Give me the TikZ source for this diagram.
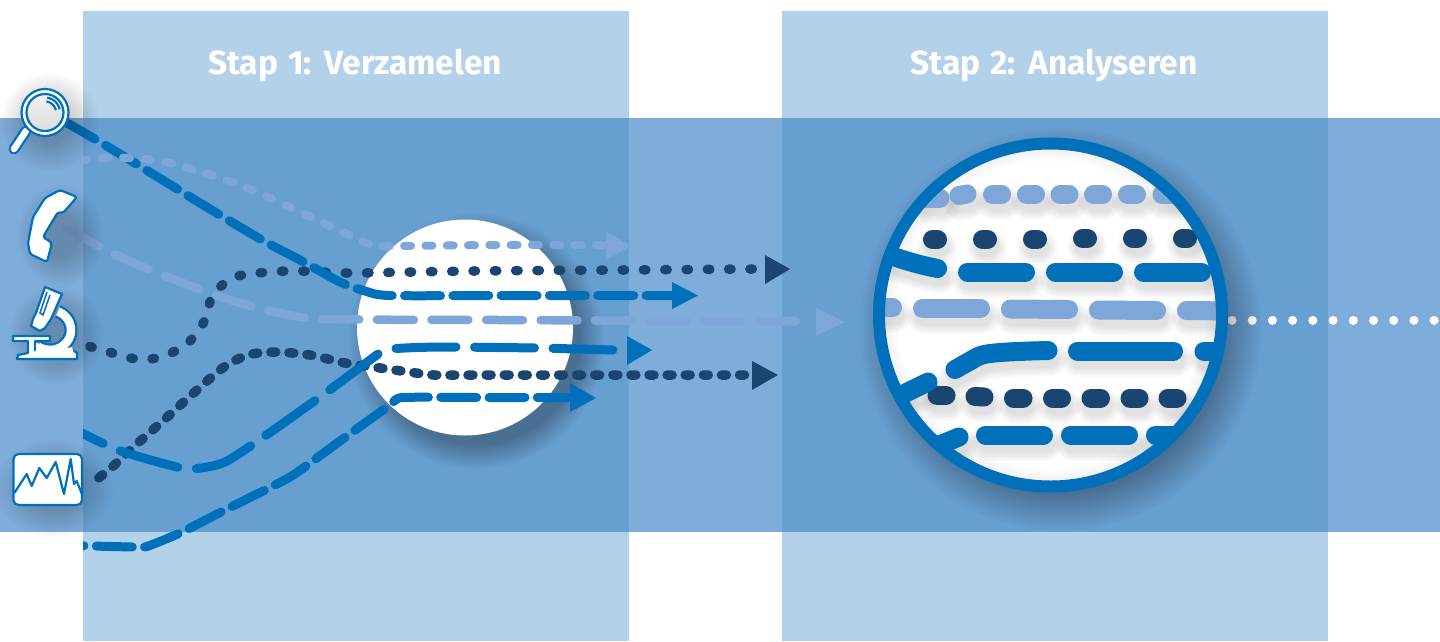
\documentclass[tikz,border=0pt]{standalone}
\usepackage{fontspec}
\setmainfont[WordSpace=1.25]{Fira Sans}
\usetikzlibrary{fadings}
\definecolor{colband}{HTML}{B3D2E9}
\definecolor{rowband}{HTML}{7FADDA}
\definecolor{overlap}{HTML}{689FD1}
\definecolor{blu}{HTML}{0070BB}
\definecolor{drk}{HTML}{1A4570}
\definecolor{lit}{HTML}{7FA6D9}
\definecolor{shA}{gray}{0.30}
\definecolor{shB}{gray}{0.20}
\pgfdeclareradialshading{softcshade}{\pgfpointorigin}{color(0bp)=(shA);color(20bp)=(shA);color(25bp)=(black);color(50bp)=(black)}
\pgfdeclarefading{softc}{\pgfuseshading{softcshade}}
\pgfdeclareradialshading{softdshade}{\pgfpointorigin}{color(0bp)=(shB);color(10bp)=(shB);color(25bp)=(black);color(50bp)=(black)}
\pgfdeclarefading{softd}{\pgfuseshading{softdshade}}
\tikzset{
  heading/.style={text=white,font=\fontsize{33.5}{36}\selectfont\bfseries,anchor=center},
  flow/.style={line cap=round,line join=round},
  litdots/.style={flow,lit,line width=8pt,dash pattern=on 7pt off 14.3pt},
  litdash/.style={flow,lit,line width=8.5pt,dash pattern=on 37pt off 17.6pt},
  drkdots/.style={flow,drk,line width=9.5pt,dash pattern=on 2.5pt off 18.8pt},
  drkdash/.style={flow,drk,line width=9.5pt,dash pattern=on 5pt off 13.1pt},
  blumid/.style={flow,blu,line width=9pt,dash pattern=on 36pt off 12.3pt},
  blulong/.style={flow,blu,line width=9pt,dash pattern=on 60pt off 18.5pt},
  icon/.style={fill=white,draw=blu,line width=2.2pt,line join=round},
}
\newcommand\seg[2]{}
\newcommand\bigrows{%
  \seg{lit}{(925,198)--(940,198)}
  \seg{lit}{(959,195.5)--(967,194)}
  \seg{lit}{(992.5,194.5)--(1001.5,194.5)}
  \seg{lit}{(1026.5,194.5)--(1035.5,194.5)}
  \seg{lit}{(1060,194.5)--(1069,194.5)}
  \seg{lit}{(1093.5,194.5)--(1102.5,194.5)}
  \seg{lit}{(1127.5,194.5)--(1136.5,194.5)}
  \seg{lit}{(1162,194.5)--(1178,194.5)}
  \seg{drk}{(932.5,239.5)--(937.5,239.5)}
  \seg{drk}{(982.5,239.5)--(987.5,239.5)}
  \seg{drk}{(1032.5,239)--(1037.5,239)}
  \seg{drk}{(1082.5,238.5)--(1087.5,238.5)}
  \seg{drk}{(1132.5,238)--(1137.5,238)}
  \seg{drk}{(1182.5,238)--(1187.5,238)}
  \seg{blu}{(880,252) .. controls (900,259) and (915,264) .. (937.5,268.5)}
  \seg{blu}{(967.5,272)--(1025.5,272)}
  \seg{blu}{(1055.5,272)--(1113.5,272)}
  \seg{blu}{(1143.5,272)--(1201.5,272)}
  \seg{lit}{(875,307.5)--(892.5,307.5)}
  \seg{lit}{(922.5,308.5)--(980.5,308.5)}
  \seg{lit}{(1010.5,309)--(1068.5,309.5)}
  \seg{lit}{(1098.5,310)--(1156.5,310.5)}
  \seg{lit}{(1186.5,310.5)--(1235,311)}
  \seg{blu}{(955,369.5)--(977,357) .. controls (983,354) and (990,352) .. (1048,350.5)}
  \seg{blu}{(1077.5,351)--(1173.5,351)}
  \seg{blu}{(1204,351.5)--(1235,351.5)}
  \seg{drk}{(937,395.5)--(946,395.5)}
  \seg{drk}{(975,396.5)--(984,397)}
  \seg{drk}{(1013.5,398)--(1023,398)}
  \seg{drk}{(1052.5,398)--(1061.5,398)}
  \seg{drk}{(1091,398)--(1100.5,398)}
  \seg{drk}{(1130,398)--(1139,398)}
  \seg{drk}{(1168,398)--(1177,398)}
  \seg{blu}{(875,408)--(928,382)}
  \seg{blu}{(915,455)--(959,437)}
  \seg{blu}{(985.5,435)--(1043.5,435)}
  \seg{blu}{(1070.5,435)--(1128.5,435)}
  \seg{blu}{(1155.5,435)--(1220,435)}
}
\begin{document}
\begin{tikzpicture}[x=1pt,y=-1pt]
\useasboundingbox (0,0) rectangle (1440,641);
\fill[white] (0,0) rectangle (1440,641);
% bands
\fill[colband] (83,11) rectangle (629,641);
\fill[colband] (782,11) rectangle (1328,641);
\fill[rowband] (0,118) rectangle (1440,532);
\fill[overlap] (83,118) rectangle (629,532);
\fill[overlap] (782,118) rectangle (1328,532);
% headings
\node[heading] (stepone) at (355,65) {Stap 1: Verzamelen};
\node[heading] (steptwo) at (1054,65) {Stap 2: Analyseren};
% small circle
\fill[black,path fading=softc] (476,341) circle (128);
\fill[white] (465,327.5) circle (108);
% outgoing dots
\draw[white,line width=9pt,line cap=round,dash pattern=on 0.01pt off 20.2pt] (1232,320) -- (1440,320);
% flows: dark
\begin{scope}
\clip (83,0) rectangle (1440,641);
\draw[drkdots] plot[smooth,tension=.55] coordinates {(752.4,269) (623,270) (538,270.5) (474,271) (411,272) (347,273) (300,271) (270,272) (235,277) (213,295) (205,320) (189,342) (171,353) (151,359) (130,358) (109,352) (88,346)};
\end{scope}
\draw[drkdash] plot[smooth,tension=.5] coordinates {(744.5,375) (500,375) (434,375) (416,373) (380,368) (345,363) (310,355) (275,352) (248,355) (224,367) (197,390) (165,419) (138,443) (111,468) (92,483)};
\fill[drk] (790,269) -- (765,255) -- (765,284) -- cycle;
\fill[drk] (778,375) -- (752,361) -- (752,390) -- cycle;
% flows: blue
\draw[blumid] plot[smooth,tension=.45] coordinates {(682,295.5) (500,295.5) (390,295.5) (365,291) (340,282) (300,260) (262,240) (200,203) (143,168) (100,142) (62,120)};
\fill[blu] (698,295.5) -- (672,282) -- (672,309) -- cycle;
\begin{scope}
\clip (83,0) rectangle (1440,641);
\draw[blulong] (396,348.5) .. controls (420,347) and (440,347) .. (456,347) -- (540,348) -- (613,350);
\draw[blulong] plot[smooth,tension=.45] coordinates {(378,354) (320,397) (262,438) (225,462) (197,468.5) (177,467) (118,450) (72,428)};
\draw[blumid] plot[smooth,tension=.3] coordinates {(573.3,397.5) (480,397.5) (402,397.5) (390,405) (340,441) (290,477) (225,510) (180,533) (147,546.5) (133,547) (92,546) (60,545)};
\end{scope}
\fill[blu] (652,350) -- (627,336) -- (627,365) -- cycle;
\fill[blu] (596,398) -- (570,383) -- (570,412) -- cycle;
% flows: light
\begin{scope}
\clip (83,0) rectangle (1440,641);
\draw[litdots] plot[smooth,tension=.5] coordinates {(602.8,245) (500,245) (395,246) (375,246) (347,234) (300,212) (240,185) (170,163) (128,158) (107,158) (66,162)};
\end{scope}
\draw[litdash] plot[smooth,tension=.5] coordinates {(796,321.5) (700,321) (500,320) (360,319.5) (300,317) (230,300) (160,274) (110,252) (65,228)};
\fill[lit] (631,246) -- (606,232) -- (606,260) -- cycle;
\fill[lit] (845,322) -- (816,308) -- (816,336) -- cycle;
% big circle
\fill[black,path fading=softc] (1060,329) circle (202);
\begin{scope}
\clip (1050.5,315) circle (166);
\fill[white] (1050.5,315) circle (166);
\foreach \w in {6,12,18,24}{\draw[black,opacity=.012,line width=\w pt] (1050.5,315) circle (166);}
\renewcommand\seg[2]{\foreach \w in {19,23,27,31,35}{\draw[black,opacity=.022,line width=\w pt,line cap=round,shift={(2,8)}] #2;}}
\bigrows
\renewcommand\seg[2]{\draw[#1,line width=19pt,line cap=round,line join=round] #2;}
\bigrows
\end{scope}
\draw[blu,line width=12pt] (1050.5,315) circle (171.5);
% icon shadows
\fill[black,path fading=softd] (50,122) circle (50);
\fill[black,path fading=softd] (60,235) ellipse (44 and 52);
\fill[black,path fading=softd] (56,335) ellipse (48 and 50);
\fill[black,path fading=softd] (54,488) ellipse (60 and 50);
% magnifier
\draw[blu,line width=11pt,line cap=round] (26,131) -- (14,149);
\draw[white,line width=6.5pt,line cap=round] (26,131) -- (14,149);
\draw[icon,fill=white] (45,112.5) circle (23.5);
\path[shade,top color=black!5,bottom color=black!14,draw=blu,line width=2.2pt] (45,112.5) circle (18.5);
\draw[blu,line width=6pt] plot[domain=-82:-12,samples=16] ({45+13*cos(\x)},{112.5+13*sin(\x)});
\draw[white,line width=1.4pt] plot[domain=-82:-12,samples=16] ({45+13*cos(\x)},{112.5+13*sin(\x)});
% phone
\draw[icon,rounded corners=2.5pt] (60,190) -- (77,197) -- (63,213) -- (58,212) -- (43,237) -- (52,243) -- (47,262) -- (30,254) -- (28,243) -- (33,217) -- (45,198) -- cycle;
% microscope
\draw[blu,line width=13pt] plot[domain=-68:125,samples=30] ({50+21*cos(\x)},{330+20*sin(\x)});
\draw[white,line width=8.5pt] plot[domain=-68:125,samples=30] ({50+21*cos(\x)},{330+20*sin(\x)});
\draw[icon] (13,336) -- (50,336) -- (50,341) -- (35,341) -- (35,350) -- (60,351) -- (71,349) -- (77,353) -- (77,359) -- (17,359) -- (18,355) -- (28,353) -- (28,341) -- (13,341) -- cycle;
\fill[white] (36,343) -- (62,349) -- (72,347) -- (74,354) -- (36,356) -- cycle;
\draw[icon] (45,287) -- (62,294) -- (51,319) -- (45,328) -- (40,331) -- (31,326) -- (33,319) -- (36,313) -- cycle;
\draw[blu,line width=1.5pt] (47,292) -- (40,313) -- (43,315) -- (50,295);
% chart
\draw[icon,rounded corners=5pt] (13.5,454) rectangle (82,505);
\begin{scope}
\clip[rounded corners=5pt] (13.5,454) rectangle (82,505);
\draw[blu,line width=2.2pt,line join=round] (14.3,493) -- (26.7,474) -- (31.7,486) -- (39.3,468) -- (46.7,478) -- (55.7,462) -- (64,494) -- (70.7,459) -- (74,484) -- (76.7,481) -- (82.3,495);
\end{scope}
\end{tikzpicture}
\end{document}
